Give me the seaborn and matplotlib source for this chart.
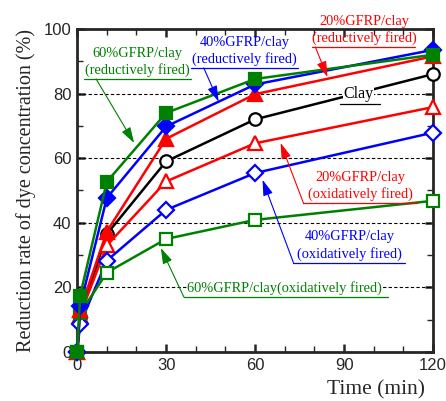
import numpy as np
import pandas as pd
import matplotlib
matplotlib.use('Agg')
import matplotlib.pyplot as plt
from matplotlib.ticker import MultipleLocator
import seaborn as sns

sns.set_style('ticks')
plt.rcParams.update({'font.family': 'Liberation Sans', 'font.size': 12,
                     'xtick.labelsize': 12, 'ytick.labelsize': 12})
SERIF = 'Liberation Serif'

# ── данные ─────────────────────────────────────────────────────────────────
time = [0, 1, 10, 30, 60, 120]
clay        = [0, 11.0, 36.5, 59.0, 72.0, 86.0]
gfrp20_red  = [0, 13.0, 37.3, 66.0, 79.8, 91.5]
gfrp40_red  = [0, 14.3, 47.7, 69.8, 82.8, 93.5]
gfrp60_red  = [0, 17.5, 52.7, 74.0, 84.5, 92.0]
gfrp20_ox   = [0, 11.5, 33.0, 52.8, 64.6, 75.8]
gfrp40_ox   = [0, 8.7, 28.3, 44.0, 55.4, 67.9]
gfrp60_ox   = [0, 12.0, 24.6, 35.0, 40.9, 46.8]

GREEN, BLUE, RED = '#008000', '#0000FF', '#FF0000'

series = [  # (values, colour, marker, filled, markersize)
    (clay,       'black', 'o', False, 9),
    (gfrp20_ox,  RED,     '^', False, 10),
    (gfrp40_ox,  BLUE,    'D', False, 8),
    (gfrp60_ox,  GREEN,   's', False, 9),
    (gfrp20_red, RED,     '^', True,  10),
    (gfrp40_red, BLUE,    'D', True,  8),
    (gfrp60_red, GREEN,   's', True,  9),
]

fig, ax = plt.subplots(figsize=(4.46, 4.01), dpi=100)
fig.subplots_adjust(left=0.173, right=0.971, bottom=0.122, top=0.928)

for vals, col, mk, filled, ms in series:
    sns.lineplot(x=time, y=vals, ax=ax, color=col, lw=1.8, marker=mk,
                 markersize=ms, markerfacecolor=col if filled else 'white',
                 markeredgecolor=col, markeredgewidth=1.6, clip_on=False,
                 zorder=4)

ax.set_xlim(0, 120); ax.set_ylim(0, 100)
ax.xaxis.set_major_locator(MultipleLocator(30)); ax.xaxis.set_minor_locator(MultipleLocator(10))
ax.yaxis.set_major_locator(MultipleLocator(20)); ax.yaxis.set_minor_locator(MultipleLocator(10))
ax.tick_params(which='both', direction='in', top=True, right=True)
ax.tick_params(which='major', length=6, width=1.8, pad=4)
ax.tick_params(which='minor', length=4, width=1.0)
for s in ax.spines.values():
    s.set_linewidth(2.0)
for yv in [20, 40, 60, 80]:
    ax.axhline(yv, color='black', lw=0.8, ls=(0, (3, 2)), zorder=1)

ax.set_ylabel('Reduction rate of dye concentration (%)', family=SERIF,
              fontsize=14.5, labelpad=6)
ax.set_xlabel('Time (min)', family=SERIF, fontsize=15.5, loc='right')
ax.xaxis.set_label_coords(0.978, -0.088)

# ── подписи серий со стрелками ───────────────────────────────────────────
def label(txt, col, tx, ul, arrow_from, arrow_to, fs=10.4, bg=False):
    x0, x1, yu = ul
    kw = dict(bbox=dict(fc='white', ec='none', pad=0.1)) if bg else {}
    ax.text(tx, yu + 0.6, txt, color=col, family=SERIF, fontsize=fs, ha='center',
            va='bottom', linespacing=1.3, zorder=6, **kw)
    ax.plot([x0, x1], [yu, yu], color=col, lw=0.9, zorder=6, clip_on=False)
    if arrow_to is not None:
        ax.annotate('', xy=arrow_to, xytext=arrow_from, zorder=6,
                    arrowprops=dict(arrowstyle='-|>,head_length=0.8,head_width=0.25',
                                    color=col, lw=0.8, shrinkA=0, shrinkB=0))

label('60%GFRP/clay\n(reductively fired)', GREEN, 20.2,
      (2.3, 38.3, 84.5), (6.4, 84.5), (19.2, 64.7))
label('40%GFRP/clay\n(reductively fired)', BLUE, 56.5,
      (38.3, 74.6, 87.9), (42.7, 87.9), (47.7, 77.5))
label('20%GFRP/clay\n(reductively fired)', RED, 97.0,
      (79.3, 114.0, 94.4), (80.3, 94.4), (84.4, 85.1))
label('Clay', 'black', 94.8, (88.7, 102.2, 76.8), None, None, fs=11.5, bg=True)
label('20%GFRP/clay\n(oxidatively fired)', RED, 95.5,
      (76.3, 114.6, 46.1), (76.3, 46.1), (68.6, 64.7))
label('40%GFRP/clay\n(oxidatively fired)', BLUE, 91.9,
      (72.9, 110.6, 27.7), (72.9, 27.7), (62.5, 53.3))
label('60%GFRP/clay(oxidatively fired)', GREEN, 70.0,
      (36.0, 104.9, 17.0), (36.0, 17.0), (28.2, 32.2), bg=True)

fig.savefig('out.png', dpi=100)
